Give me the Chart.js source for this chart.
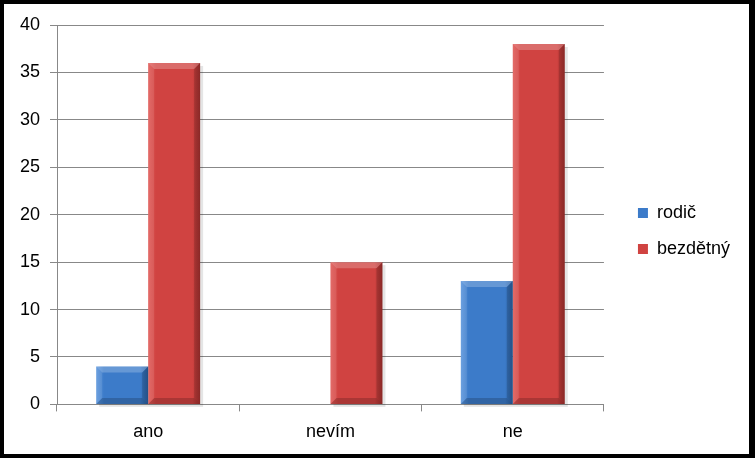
<!DOCTYPE html>
<html><head><meta charset="utf-8">
<script src="https://cdn.jsdelivr.net/npm/chart.js@4"></script>
<style>html,body{margin:0;padding:0;background:#000;}#wrap{width:755px;height:458px;}</style>
</head><body><div id="wrap"><canvas id="c" width="755" height="458"></canvas></div>
<script>
const categories = ['ano', 'nevím', 'ne'];
const rodic = [4, 0, 13];
const bezdetny = [36, 15, 38];
const seriesNames = ['rodič', 'bezdětný'];
const yTicks = {min: 0, max: 40, step: 5};
const palettes = [
  ['#5b95dc', '#3c7bc9', '#2b5f9f'],
  ['#e05a57', '#d04341', '#a3302e']
];
const FONT = 'Liberation Sans';

const framePlugin = {
  id: 'frame',
  afterLayout(chart) {
    const lg = chart.legend;
    if (lg) { lg.left += 16; lg.right += 16; lg.top -= 8; lg.bottom -= 8; }
  },
  beforeDraw(chart) {
    const c = chart.ctx;
    c.save();
    c.fillStyle = '#000';
    c.fillRect(0, 0, chart.width, chart.height);
    c.fillStyle = '#fff';
    c.fillRect(4, 4, 745, 450);
    c.restore();
  },
  beforeDatasetsDraw(chart) {
    const c = chart.ctx;
    chart.data.datasets.forEach((ds, di) => {
      const p = palettes[di];
      chart.getDatasetMeta(di).data.forEach(bar => {
        if (!Number.isFinite(bar.x) || !Number.isFinite(bar.width)) return;
        const l = bar.x - bar.width / 2, r = bar.x + bar.width / 2;
        const g = c.createLinearGradient(l, 0, r, 0);
        g.addColorStop(0, p[0]);
        g.addColorStop(0.15, p[1]);
        g.addColorStop(0.85, p[1]);
        g.addColorStop(1, p[2]);
        bar.options = Object.assign({}, bar.options, {backgroundColor: g});
        const h = bar.base - bar.y;
        if (h >= 2) {
          c.save();
          c.fillStyle = 'rgba(0,0,0,0.10)';
          c.fillRect(l + 3, bar.y + 3, bar.width, h);
          c.restore();
        }
      });
    });
  },
  afterDatasetsDraw(chart) {
    const c = chart.ctx;
    c.save();
    chart.data.datasets.forEach((ds, di) => {
      chart.getDatasetMeta(di).data.forEach(bar => {
        const h = bar.base - bar.y;
        if (h < 2) return;
        const l = bar.x - bar.width / 2, r = bar.x + bar.width / 2, t = bar.y;
        const b = 6;
        c.fillStyle = 'rgba(255,255,255,0.22)';
        c.beginPath();
        c.moveTo(l, t); c.lineTo(r, t); c.lineTo(r - b, t + b); c.lineTo(l + b, t + b); c.closePath(); c.fill();
        c.fillStyle = 'rgba(0,0,0,0.15)';
        c.beginPath();
        c.moveTo(r, t); c.lineTo(r, bar.base); c.lineTo(r - b, bar.base - b); c.lineTo(r - b, t + b); c.closePath(); c.fill();
        c.fillStyle = 'rgba(0,0,0,0.18)';
        c.beginPath();
        c.moveTo(l, bar.base); c.lineTo(r, bar.base); c.lineTo(r - b, bar.base - b); c.lineTo(l + b, bar.base - b); c.closePath(); c.fill();
        c.fillStyle = 'rgba(255,255,255,0.10)';
        c.beginPath();
        c.moveTo(l, t); c.lineTo(l + b, t + b); c.lineTo(l + b, bar.base - b); c.lineTo(l, bar.base); c.closePath(); c.fill();
      });
    });
    c.restore();
  }
};

new Chart(document.getElementById('c'), {
  type: 'bar',
  data: {
    labels: categories,
    datasets: [
      {label: seriesNames[0], data: rodic, backgroundColor: palettes[0][1], borderWidth: 0},
      {label: seriesNames[1], data: bezdetny, backgroundColor: palettes[1][1], borderWidth: 0}
    ]
  },
  options: {
    responsive: false,
    animation: false,
    devicePixelRatio: 1,
    categoryPercentage: 0.57,
    barPercentage: 1.0,
    layout: {padding: {left: 17, right: 31, top: 25, bottom: 5}},
    plugins: {
      legend: {
        position: 'right',
        labels: {
          boxWidth: 10, boxHeight: 10, padding: 18,
          font: {family: FONT, size: 18},
          color: '#000'
        }
      },
      tooltip: {enabled: false}
    },
    scales: {
      x: {
        grid: {display: true, drawOnChartArea: false, offset: true, tickLength: 7, color: '#888'},
        border: {color: '#888'},
        ticks: {font: {family: FONT, size: 18}, color: '#000', padding: 10}
      },
      y: {
        min: yTicks.min, max: yTicks.max,
        grid: {color: '#888', tickLength: 7},
        border: {color: '#888'},
        ticks: {stepSize: yTicks.step, font: {family: FONT, size: 18}, color: '#000', padding: 10},
        afterFit(scale) { scale.width = 40; }
      }
    }
  },
  plugins: [framePlugin]
});
</script>
</body></html>
